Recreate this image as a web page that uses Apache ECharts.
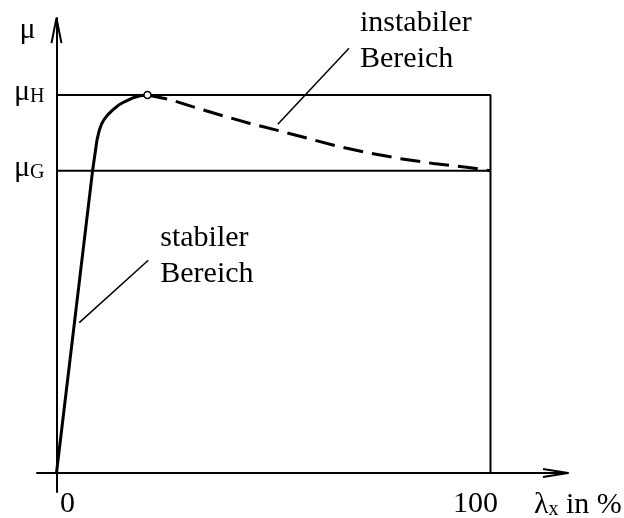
<!DOCTYPE html>
<html><head><meta charset="utf-8">
<script src="https://cdn.jsdelivr.net/npm/echarts@6/dist/echarts.min.js"></script>
<style>html,body{margin:0;padding:0;background:#fff}#c{width:624px;height:518px}</style>
</head><body><div id="c"></div>
<script>
// slip λx in %, friction μ (normalised so that μH = 1)
const slipStable = [0, 8.34, 9.33, 9.86, 10.37, 10.94, 11.75, 12.79, 14.24, 15.78, 17.70, 19.24, 20.97];
const muStable   = [0, 0.802, 0.881, 0.907, 0.923, 0.935, 0.947, 0.959, 0.973, 0.983, 0.993, 0.998, 1.0];
const slipUnstable = [20.97, 26.15, 32.3, 38.4, 44.6, 51.5, 58.4, 64.6, 71.5, 79.1, 86.8, 94.5, 100];
const muUnstable   = [1.0, 0.988, 0.966, 0.945, 0.925, 0.905, 0.884, 0.865, 0.848, 0.832, 0.819, 0.809, 0.80];
const muH = 1.0, muG = 0.80;
const slipMax = 100;
const xTicks = [0, 100];
const yTicks = [muH, muG];
const peak = [20.97, 1.0];
// annotation leaders [bottom point, top point]
const leaderInstabil = [[51.0, 0.923], [67.4, 1.124]];
const leaderStabil   = [[5.25, 0.398], [21.15, 0.563]];
const textInstabil = 'instabiler\nBereich';
const textStabil = 'stabiler\nBereich';
const xRange = [-4.49, 117.86];
const yRange = [-0.0503, 1.204];

const F = 'Liberation Serif';
const pair = (xs, ys) => xs.map((x, i) => [x, ys[i]]);
const chart = echarts.init(document.getElementById('c'), null, {renderer: 'canvas'});
const black = '#000';
const lineS = (data, w, extra) => Object.assign({
  type: 'line', data: data, symbol: 'none', silent: true, clip: false,
  lineStyle: {color: black, width: w}, z: 3
}, extra || {});

const option = {
  animation: false,
  backgroundColor: '#fff',
  grid: {left: 37, right: 56, top: 18, bottom: 26, containLabel: false, outerBoundsMode: 'none'},
  xAxis: {
    type: 'value', min: xRange[0], max: xRange[1],
    axisLine: {onZero: true, lineStyle: {color: black, width: 2}},
    axisTick: {show: false}, splitLine: {show: false},
    axisLabel: {
      customValues: xTicks, margin: -3, color: black,
      formatter: v => v === 0 ? '{a|0}' : '{b|100}',
      rich: {
        a: {fontFamily: F, fontSize: 30, lineHeight: 30, color: black, padding: [0, 0, 0, 22]},
        b: {fontFamily: F, fontSize: 30, lineHeight: 30, color: black, padding: [0, 30, 0, 0]}
      }
    },
    name: 'λ{s|x} in %', nameLocation: 'end', nameGap: 52,
    nameTextStyle: {
      fontFamily: F, fontSize: 30, lineHeight: 30, color: black,
      align: 'right', verticalAlign: 'top', padding: [17, 0, 0, 0],
      rich: {s: {fontFamily: F, fontSize: 20, color: black, verticalAlign: 'bottom', lineHeight: 30}}
    }
  },
  yAxis: {
    type: 'value', min: yRange[0], max: yRange[1],
    axisLine: {onZero: true, lineStyle: {color: black, width: 2}},
    axisTick: {show: false}, splitLine: {show: false},
    axisLabel: {
      customValues: yTicks, margin: -7.5, padding: [0, 0, 6, 0],
      formatter: v => v === muH ? '{m|μ}{s|H}' : '{m|μ}{s|G}',
      rich: {
        m: {fontFamily: F, fontSize: 30, lineHeight: 30, color: black},
        s: {fontFamily: F, fontSize: 20, lineHeight: 30, color: black, verticalAlign: 'bottom'}
      }
    },
    name: 'μ', nameLocation: 'end', nameGap: 2.5,
    nameTextStyle: {fontFamily: F, fontSize: 30, lineHeight: 30, color: black,
      align: 'right', verticalAlign: 'top', padding: [0, 21, 0, 0]}
  },
  series: [
    lineS([[0, muH], [slipMax, muH], [slipMax, 0]], 2),
    lineS([[0, muG], [slipMax, muG]], 2),
    // axis arrows (open chevrons)
    lineS([[-1.15, 1.1376], [0, yRange[1]], [1.15, 1.1376]], 2),
    lineS([[112.1, 0.0106], [xRange[1], 0], [112.1, -0.0106]], 2),
    lineS(pair(slipStable, muStable), 3, {z: 5, lineStyle: {color: black, width: 3, join: 'round', cap: 'round'}}),
    lineS(pair(slipUnstable, muUnstable), 3, {z: 5,
      lineStyle: {color: black, width: 3, type: [20, 9], join: 'round'}}),
    lineS(leaderInstabil, 1.5),
    lineS(leaderStabil, 1.5),
    {
      type: 'scatter', silent: true, symbolSize: 0, clip: false,
      itemStyle: {opacity: 1},
      data: [leaderInstabil[1]],
      label: {show: true, position: [11, -43], formatter: textInstabil,
        fontFamily: F, fontSize: 30, lineHeight: 36, color: black, opacity: 1, align: 'left', verticalAlign: 'top'}
    },
    {
      type: 'scatter', silent: true, symbolSize: 0, clip: false,
      itemStyle: {opacity: 1},
      data: [leaderStabil[1]],
      label: {show: true, position: [12, -40], formatter: textStabil,
        fontFamily: F, fontSize: 30, lineHeight: 36, color: black, opacity: 1, align: 'left', verticalAlign: 'top'}
    },
    {
      type: 'scatter', silent: true, symbol: 'circle', symbolSize: 7, z: 10,
      data: [peak],
      itemStyle: {color: '#fff', borderColor: black, borderWidth: 1.5, opacity: 1}
    }
  ]
};
chart.setOption(option);
</script></body></html>
